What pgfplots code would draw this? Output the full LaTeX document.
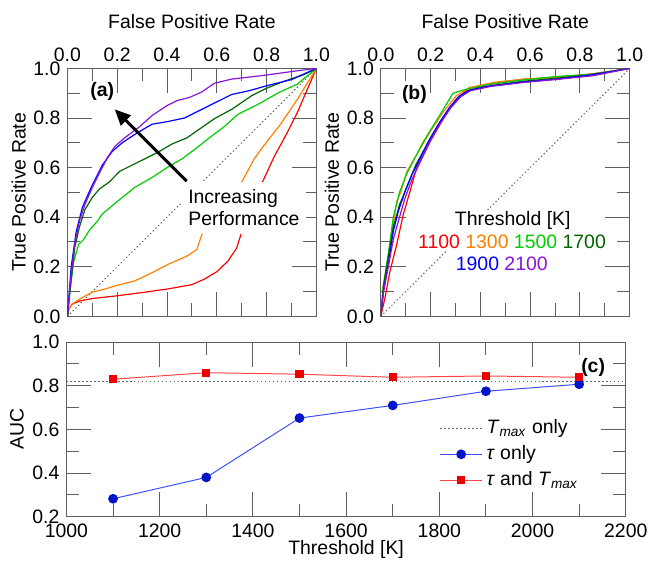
\documentclass[border=0pt]{standalone}
\usepackage{pgfplots}
\pgfplotsset{compat=1.18}
\usepackage{fontspec}
\setmainfont{Liberation Sans}
\usetikzlibrary{arrows.meta}
\definecolor{c1100}{RGB}{255,0,0}
\definecolor{c1300}{RGB}{255,128,0}
\definecolor{c1500}{RGB}{0,205,0}
\definecolor{c1700}{RGB}{0,100,0}
\definecolor{c1900}{RGB}{0,0,255}
\definecolor{c2100}{RGB}{135,20,215}
\definecolor{framegray}{RGB}{95,95,95}
\definecolor{blueL}{RGB}{60,80,255}
\definecolor{blueM}{RGB}{0,20,200}
\definecolor{redL}{RGB}{255,70,70}
\definecolor{redM}{RGB}{235,0,0}
\newcommand{\ff}{\fontsize{9.8}{11}\selectfont}
\pgfplotsset{
  myaxis/.style={
    scale only axis,
    axis line style={framegray, line width=0.6pt},
    tick align=inside,
    major tick length=12.5pt,
    minor tick length=6.5pt,
    minor tick num=1,
    xtick pos=both, ytick pos=both,
    every tick/.style={framegray, line width=0.5pt},
    /pgf/number format/assume math mode=true,
    /pgf/number format/1000 sep={},
    tick label style={font=\ff},
    label style={font=\ff},
  },
  rocaxis/.style={
    myaxis,
    height=125pt,
    xmin=0,xmax=1,ymin=0,ymax=1,
    xtick={0,0.2,0.4,0.6,0.8,1}, ytick={0,0.2,0.4,0.6,0.8,1},
    xticklabel pos=upper,
    xlabel near ticks,
    xlabel={False Positive Rate},
    ylabel={True Positive Rate},
    xlabel shift=2.5pt,
    ylabel shift=-3pt,
    xticklabel style={/pgf/number format/.cd, fixed, fixed zerofill, precision=1},
    yticklabel style={/pgf/number format/.cd, fixed, fixed zerofill, precision=1},
    every axis plot/.append style={line width=0.6pt},
  },
}
\begin{document}
\begin{tikzpicture}[font=\ff]
\path (0,0) rectangle (327pt,284pt);
% ---------------- (a)
\begin{axis}[rocaxis, width=125.5pt, at={(34pt,124.5pt)}, anchor=south west]
\addplot[black!70, line width=0.5pt, dash pattern=on 0.6pt off 1.3pt] coordinates {(0,0)(1,1)};
\addplot[c1100] coordinates {(0,0)(0.005,0.03)(0.02,0.05)(0.05,0.062)(0.1,0.072)(0.2,0.083)(0.3,0.096)(0.4,0.11)(0.5,0.128)(0.55,0.15)(0.6,0.18)(0.645,0.223)(0.68,0.276)(0.7,0.34)(0.73,0.45)(0.785,0.545)(0.83,0.643)(0.884,0.743)(0.924,0.823)(0.964,0.916)(1,1)};
\addplot[c1300] coordinates {(0,0)(0.005,0.03)(0.02,0.05)(0.05,0.07)(0.1,0.098)(0.15,0.11)(0.2,0.125)(0.27,0.143)(0.34,0.176)(0.405,0.21)(0.48,0.243)(0.52,0.27)(0.54,0.33)(0.6,0.42)(0.66,0.5)(0.702,0.545)(0.751,0.636)(0.79,0.69)(0.857,0.776)(0.924,0.876)(1,1)};
\addplot[c1500] coordinates {(0,0)(0.01,0.1)(0.025,0.22)(0.045,0.29)(0.065,0.31)(0.09,0.35)(0.12,0.383)(0.14,0.413)(0.2,0.463)(0.27,0.52)(0.34,0.56)(0.4,0.6)(0.46,0.635)(0.52,0.68)(0.57,0.72)(0.63,0.765)(0.685,0.815)(0.765,0.855)(0.85,0.903)(0.924,0.937)(1,1)};
\addplot[c1700] coordinates {(0,0)(0.015,0.15)(0.03,0.28)(0.048,0.36)(0.07,0.43)(0.1,0.48)(0.13,0.515)(0.166,0.54)(0.21,0.585)(0.26,0.61)(0.31,0.635)(0.36,0.66)(0.42,0.695)(0.48,0.72)(0.53,0.755)(0.59,0.797)(0.66,0.835)(0.74,0.89)(0.8,0.92)(0.87,0.948)(0.95,0.975)(1,1)};
\addplot[c1900] coordinates {(0,0)(0.015,0.2)(0.035,0.34)(0.06,0.44)(0.1,0.53)(0.14,0.61)(0.18,0.665)(0.22,0.7)(0.28,0.74)(0.34,0.775)(0.4,0.785)(0.47,0.8)(0.53,0.83)(0.59,0.86)(0.66,0.895)(0.73,0.91)(0.8,0.93)(0.9,0.955)(1,1)};
\addplot[c2100] coordinates {(0,0)(0.015,0.17)(0.03,0.3)(0.05,0.39)(0.07,0.45)(0.1,0.52)(0.13,0.58)(0.16,0.64)(0.19,0.685)(0.23,0.72)(0.29,0.765)(0.34,0.81)(0.4,0.85)(0.44,0.87)(0.49,0.883)(0.54,0.905)(0.59,0.94)(0.66,0.957)(0.79,0.972)(0.92,0.99)(1,1)};
\node[fill=white, anchor=north west, align=left, inner xsep=3pt, inner ysep=4pt, font=\fontsize{9.8}{11}\selectfont] at (axis cs:0.46,0.545) {Increasing\\Performance};
\draw[black, line width=1.5pt, -{Triangle[length=8pt,width=7pt]}] (axis cs:0.479,0.545) -- (axis cs:0.19,0.835);
\node[font=\ff\bfseries] at (axis cs:0.14,0.905) {(a)};
\end{axis}
% ---------------- (b)
\begin{axis}[rocaxis, width=125.5pt, at={(192pt,124.5pt)}, anchor=south west]
\addplot[black!70, line width=0.5pt, dash pattern=on 0.6pt off 1.3pt] coordinates {(0,0)(1,1)};
\addplot[c1100] coordinates {(0,0)(0.017,0.076)(0.037,0.183)(0.064,0.29)(0.09,0.41)(0.117,0.503)(0.143,0.596)(0.197,0.703)(0.25,0.796)(0.303,0.876)(0.343,0.909)(0.436,0.936)(0.568,0.956)(0.7,0.963)(0.85,0.978)(1,1)};
\addplot[c1300] coordinates {(0,0)(0.01,0.12)(0.037,0.29)(0.064,0.463)(0.08,0.5)(0.104,0.583)(0.143,0.65)(0.197,0.743)(0.25,0.823)(0.303,0.889)(0.356,0.923)(0.462,0.945)(0.568,0.956)(0.7,0.963)(0.85,0.977)(1,1)};
\addplot[c1500] coordinates {(0,0)(0.01,0.12)(0.03,0.25)(0.05,0.4)(0.075,0.5)(0.104,0.575)(0.17,0.703)(0.236,0.81)(0.29,0.9)(0.343,0.916)(0.436,0.936)(0.568,0.953)(0.7,0.967)(0.85,0.977)(1,1)};
\addplot[c1700] coordinates {(0,0)(0.01,0.12)(0.03,0.24)(0.05,0.36)(0.075,0.45)(0.1,0.51)(0.14,0.61)(0.2,0.72)(0.25,0.8)(0.3,0.87)(0.35,0.91)(0.44,0.93)(0.57,0.948)(0.7,0.96)(0.85,0.975)(1,1)};
\addplot[c1900] coordinates {(0,0)(0.011,0.103)(0.03,0.21)(0.05,0.343)(0.07,0.423)(0.097,0.503)(0.124,0.57)(0.157,0.636)(0.197,0.716)(0.236,0.783)(0.276,0.843)(0.316,0.889)(0.356,0.912)(0.436,0.929)(0.568,0.945)(0.7,0.956)(0.834,0.972)(1,1)};
\addplot[c2100] coordinates {(0,0)(0.011,0.1)(0.03,0.2)(0.05,0.31)(0.075,0.4)(0.097,0.476)(0.124,0.55)(0.157,0.62)(0.2,0.71)(0.24,0.78)(0.28,0.84)(0.32,0.885)(0.36,0.91)(0.44,0.927)(0.57,0.943)(0.7,0.955)(0.85,0.97)(1,1)};
\node[fill=white, inner sep=1pt] at (axis cs:0.53,0.385) {Threshold [K]};
\node[fill=white, inner sep=1pt] at (axis cs:0.527,0.302) {\textcolor{c1100}{1100} \textcolor{c1300}{1300} \textcolor{c1500}{1500} \textcolor{c1700}{1700}};
\node[fill=white, inner sep=1pt] at (axis cs:0.486,0.212) {\textcolor{c1900}{1900} \textcolor{c2100}{2100}};
\node[font=\ff\bfseries] at (axis cs:0.135,0.896) {(b)};
\end{axis}
% ---------------- (c)
\begin{axis}[myaxis, width=282pt, height=88pt, at={(33.5pt,23.5pt)}, anchor=south west,
  xmin=1000, xmax=2200, ymin=0.2, ymax=1.0,
  xtick={1000,1200,1400,1600,1800,2000,2200},
  ytick={0.2,0.4,0.6,0.8,1.0},
  yticklabel style={/pgf/number format/.cd, fixed, fixed zerofill, precision=1},
  xlabel={Threshold [K]}, ylabel={AUC},
  xlabel shift=-5.5pt, ylabel shift=-2.5pt,
  legend style={draw=none, fill=none, at={(axis cs:1800,0.665)}, anchor=north west,
    inner sep=0pt, font=\ff, nodes={inner ysep=1pt, text height=8pt, text depth=3pt}},
  legend cell align=left,
  legend image code/.code={\draw[mark repeat=2,mark phase=2,#1] plot coordinates {(0pt,0pt)(10.5pt,0pt)(21pt,0pt)};},
]
\addplot[black!60, line width=0.6pt, dash pattern=on 0.8pt off 1.2pt] coordinates {(1000,0.82)(2200,0.82)};
\addlegendentry{\textit{T}\textsubscript{\textit{max}} only}
\addplot[blueL, line width=0.5pt, mark=*, mark size=2.2pt, mark options={draw=blueM, fill=blueM}] coordinates {(1100,0.282)(1300,0.38)(1500,0.652)(1700,0.71)(1900,0.775)(2100,0.807)};
\addlegendentry{\textit{τ} only}
\addplot[redL, line width=0.5pt, mark=square*, mark size=1.8pt, mark options={draw=redM, fill=redM}] coordinates {(1100,0.83)(1300,0.86)(1500,0.853)(1700,0.839)(1900,0.845)(2100,0.839)};
\addlegendentry{\textit{τ} and \textit{T}\textsubscript{\textit{max}}}
\node[font=\ff\bfseries] at (axis cs:2130,0.882) {(c)};
\end{axis}
\end{tikzpicture}
\end{document}
